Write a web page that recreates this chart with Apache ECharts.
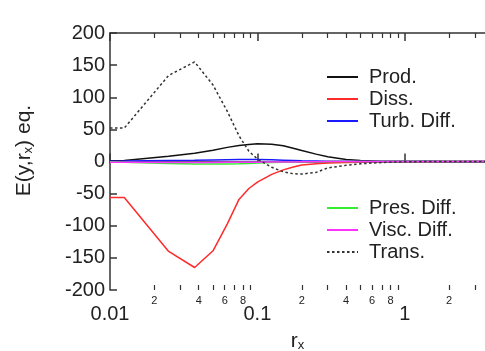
<!DOCTYPE html>
<html>
<head>
<meta charset="utf-8">
<script src="https://cdn.jsdelivr.net/npm/echarts@6/dist/echarts.min.js"></script>
<style>
html,body{margin:0;padding:0;background:#fff;}
#chart{width:485px;height:351px;}
</style>
</head>
<body>
<div id="chart"></div>
<script>
// r_x sample positions
const rx = [0.01, 0.0125, 0.025, 0.0375, 0.05, 0.0625, 0.075, 0.0875, 0.1, 0.125, 0.15, 0.175, 0.2, 0.25, 0.3, 0.4, 0.5, 0.7, 1, 1.5, 2, 3, 3.5];
// series values
const prod  = [1, 1.5, 8, 13, 17.5, 22, 25, 26.5, 27.5, 27, 24.5, 20.5, 17, 11.5, 7.5, 3, 1.5, 0.5, 0.3, 0.2, 0.1, 0, 0];
const diss  = [-56, -56, -140, -165, -139, -97, -59, -42, -32, -20, -13, -8.5, -5.5, -3.5, -2.5, -1.5, -1, -0.5, -0.3, -0.2, -0.1, 0, 0];
const turb  = [0.5, 0.6, 1.5, 2, 2.5, 2.8, 3, 3, 3, 2.6, 2, 1.5, 1, 0.7, 0.5, 0.2, 0, 0, 0, 0, 0, 0, 0];
const pres  = [-0.5, -1, -3, -4, -4, -4, -3.5, -3, -2.5, -1.7, -1, -0.7, -0.5, -0.2, 0, 0, 0, 0, 0, 0, 0, 0, 0];
const visc  = [-1, -1, -1.5, -1.5, -1.5, -1.3, -1.2, -1.1, -1, -0.8, -0.7, -0.6, -0.5, -0.3, 0, 0, 0, 0, 0, 0, 0, 0, 0];
const trans = [52, 52, 134, 155, 119, 78, 40, 16, 4, -9, -16, -19, -19.5, -17, -10, -6, -3.5, -1.5, -0.5, 0, 0, 0, 0];
// tick labels
const yTicks = [-200, -150, -100, -50, 0, 50, 100, 150, 200];
const xMajor = [0.01, 0.1, 1];
const xMinorTicks = [0.02, 0.03, 0.04, 0.05, 0.06, 0.07, 0.08, 0.09, 0.2, 0.3, 0.4, 0.5, 0.6, 0.7, 0.8, 0.9, 2, 3];
const xMinorLabels = [0.02, 0.04, 0.06, 0.08, 0.2, 0.4, 0.6, 0.8, 2];

const FONT = 'Liberation Sans';
const TXT = '#222';
const AX = '#333';
const xMin = 0.01, xMax = 3.5;

function pairs(vals) { return rx.map((x, i) => [x, vals[i]]); }
function majorFmt(v) { return String(Math.round(v * 1000) / 1000); }
function minorFmt(v) { const p = Math.pow(10, Math.floor(Math.log10(v) + 1e-9)); return String(Math.round(v / p)); }

const baseX = {
  type: 'log', logBase: 10, min: xMin, max: xMax, gridIndex: 0,
  splitLine: { show: false }, minorTick: { show: false }, minorSplitLine: { show: false }
};

const chart = echarts.init(document.getElementById('chart'), null, { renderer: 'canvas' });
const subRich = {
  a: { fontSize: 21, fontFamily: FONT, color: TXT, lineHeight: 21, padding: [0, 0, 4, 0], verticalAlign: 'top' },
  s: { fontSize: 13, fontFamily: FONT, color: TXT, lineHeight: 13, verticalAlign: 'bottom' }
};

function line(name, vals, color, extra) {
  return Object.assign({
    name: name, type: 'line', data: pairs(vals), xAxisIndex: 0, yAxisIndex: 0,
    symbol: 'none', showSymbol: false, smooth: false, animation: false,
    lineStyle: { color: color, width: 1.5 }, itemStyle: { color: color }
  }, extra || {});
}

const legendBase = {
  orient: 'vertical', left: 321, padding: 5,
  itemWidth: 31, itemHeight: 12, itemGap: 2, selectedMode: false,
  itemStyle: { opacity: 0, color: 'transparent', borderWidth: 0 },
  textStyle: { fontSize: 20, fontFamily: FONT, color: TXT, lineHeight: 19, padding: [0, 0, 0, 6] }
};

chart.setOption({
  animation: false,
  backgroundColor: '#fff',
  grid: { left: 110, right: 0, top: 33, bottom: 61, containLabel: false, outerBoundsMode: 'none' },
  legend: [
    Object.assign({}, legendBase, { data: ['Prod.', 'Diss.', 'Turb. Diff.'], top: 62 }),
    Object.assign({}, legendBase, { data: ['Pres. Diff.', 'Visc. Diff.', 'Trans.'], top: 193 })
  ],
  xAxis: [
    Object.assign({}, baseX, {
      position: 'bottom',
      name: '{a|r}{s|x}', nameLocation: 'middle', nameGap: 41,
      nameTextStyle: { rich: subRich },
      axisLine: { show: true, lineStyle: { color: AX, width: 1.5 } },
      axisTick: { show: true, inside: true, length: 8, lineStyle: { color: AX, width: 1.5 }, customValues: xMajor },
      axisLabel: { show: true, customValues: xMajor, formatter: majorFmt, fontSize: 20, fontFamily: FONT, color: TXT, margin: 14 }
    }),
    Object.assign({}, baseX, {
      position: 'bottom',
      axisLine: { show: false },
      axisTick: { show: true, inside: true, length: 5, lineStyle: { color: AX, width: 1.2 }, customValues: xMinorTicks },
      axisLabel: { show: true, customValues: xMinorLabels, formatter: minorFmt, fontSize: 11, fontFamily: FONT, color: TXT, margin: 5 }
    }),
    Object.assign({}, baseX, {
      position: 'top',
      axisLine: { show: true, lineStyle: { color: AX, width: 1.5 } },
      axisTick: { show: true, inside: true, length: 8, lineStyle: { color: AX, width: 1.5 }, customValues: xMajor },
      axisLabel: { show: false }
    }),
    Object.assign({}, baseX, {
      position: 'top',
      axisLine: { show: false },
      axisTick: { show: true, inside: true, length: 5, lineStyle: { color: AX, width: 1.2 }, customValues: xMinorTicks },
      axisLabel: { show: false }
    })
  ],
  yAxis: [{
    type: 'value', min: -200, max: 200, interval: 50, position: 'left',
    name: '{a|E(y,r}{s|x}{a|) eq.}', nameLocation: 'middle', nameRotate: 90, nameGap: 75,
    nameTextStyle: { rich: subRich, padding: [0, 0, 0, 22] },
    splitLine: { show: false },
    axisLine: { show: true, lineStyle: { color: AX, width: 1.5 } },
    axisTick: { show: true, inside: true, length: 7, lineStyle: { color: AX, width: 1.5 }, customValues: yTicks },
    axisLabel: { customValues: yTicks, fontSize: 20, fontFamily: FONT, color: TXT, margin: 5 }
  }],
  series: [
    line('Prod.', prod, '#111'),
    line('Diss.', diss, '#ff2a2a'),
    line('Turb. Diff.', turb, '#1a1aff'),
    line('Pres. Diff.', pres, '#33ee33'),
    line('Visc. Diff.', visc, '#ff33ff'),
    line('Trans.', trans, '#333', { lineStyle: { color: '#333', width: 1.5, type: [2.5, 2.5] } })
  ]
});
</script>
</body>
</html>
